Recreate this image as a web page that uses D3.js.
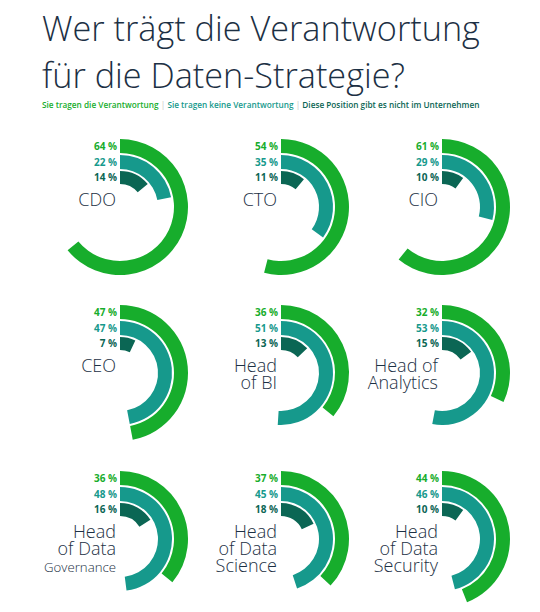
<!DOCTYPE html>
<html lang="de">
<head>
  <meta charset="UTF-8">
  <title>Daten-Strategie</title>
  <script src="https://d3js.org/d3.v7.min.js"></script>
  <style>
    body { margin: 0; background: #fff; }
    svg { display: block; font-family: "Open Sans", sans-serif; }
  </style>
</head>
<body>
<div id="chart"></div>
<script>
// data
var positions = ["CDO", "CTO", "CIO", "CEO", "Head of BI", "Head of Analytics",
  "Head of Data Governance", "Head of Data Science", "Head of Data Security"];
var labelLines = [["CDO"], ["CTO"], ["CIO"], ["CEO"], ["Head", "of BI"], ["Head of", "Analytics"],
  ["Head", "of Data", "Governance"], ["Head", "of Data", "Science"], ["Head", "of Data", "Security"]];
var responsible = [64, 54, 61, 47, 36, 32, 36, 37, 44];
var notResponsible = [22, 35, 29, 47, 51, 53, 48, 45, 46];
var notExisting = [14, 11, 10, 7, 13, 15, 16, 18, 10];
var seriesNames = ["Sie tragen die Verantwortung", "Sie tragen keine Verantwortung",
  "Diese Position gibt es nicht im Unternehmen"];

var colours = ["#17ad2c", "#16998c", "#0b6654"];
var textColour = "#1c3044";
var width = 540, height = 612;

var svg = d3.select("#chart").append("svg")
  .attr("width", width)
  .attr("height", height);

// title
var title = svg.append("text")
  .attr("x", 42)
  .attr("font-weight", 300)
  .attr("fill", textColour);
title.append("tspan").attr("x", 42).attr("y", 41).text("Wer trägt die Verantwortung");
title.append("tspan").attr("x", 42).attr("y", 88).text("für die Daten-Strategie?");
// size the title so the first line is as wide as in the picture
title.attr("font-size", 37);
var w1 = title.select("tspan").node().getComputedTextLength();
title.attr("font-size", 37 * 438 / w1);

// legend line
var legend = svg.append("text")
  .attr("x", 42)
  .attr("y", 108)
  .attr("font-weight", 600)
  .attr("font-size", 9);
seriesNames.forEach(function(name, i) {
  if (i > 0) {
    legend.append("tspan").attr("fill", "#c4c4c4").attr("font-weight", 400).text(" | ");
  }
  legend.append("tspan").attr("fill", colours[i]).text(name);
});
var lw = legend.node().getComputedTextLength();
legend.attr("font-size", 9 * 438 / lw);

// grid of radial bars
var xPos = d3.scalePoint().domain([0, 1, 2]).range([120, 442]);
var yPos = d3.scalePoint().domain([0, 1, 2]).range([207, 539]);
var angle = d3.scaleLinear().domain([0, 100]).range([0, 2 * Math.PI]);
var ringOuter = [68, 52, 36];
var ringInner = [54, 38, 23];

var arc = d3.arc()
  .startAngle(0)
  .endAngle(function(d) { return angle(d.value); })
  .innerRadius(function(d) { return ringInner[d.ring]; })
  .outerRadius(function(d) { return ringOuter[d.ring]; });

var panels = svg.selectAll("g.panel")
  .data(positions)
  .enter()
  .append("g")
    .attr("class", "panel")
    .attr("transform", function(d, i) {
      return "translate(" + xPos(i % 3) + "," + yPos(Math.floor(i / 3)) + ")";
    });

panels.each(function(name, i) {
  var g = d3.select(this);
  var rings = [responsible[i], notResponsible[i], notExisting[i]].map(function(v, r) {
    return { value: v, ring: r };
  });

  g.selectAll("path")
    .data(rings)
    .enter()
    .append("path")
      .attr("d", arc)
      .attr("fill", function(d) { return colours[d.ring]; });

  // percentage labels, centred in each ring
  g.selectAll("text.pct")
    .data(rings)
    .enter()
    .append("text")
      .attr("class", "pct")
      .attr("x", -3)
      .attr("y", function(d) { return -(ringOuter[d.ring] + ringInner[d.ring]) / 2; })
      .attr("dy", "0.35em")
      .attr("text-anchor", "end")
      .attr("font-size", 10)
      .attr("font-weight", 700)
      .attr("fill", function(d) { return colours[d.ring]; })
      .text(function(d) { return d.value + " %"; });

  // position name
  g.selectAll("text.name")
    .data(labelLines[i])
    .enter()
    .append("text")
      .attr("class", "name")
      .attr("x", -4)
      .attr("y", function(d, j) { return -1 + j * 17; })
      .attr("text-anchor", "end")
      .attr("font-size", 18)
      .attr("font-weight", 300)
      .attr("fill", textColour)
      .text(function(d) { return d; })
      .each(function() {
        // long words are set smaller, as in the picture
        var t = d3.select(this);
        var len = this.getComputedTextLength();
        if (len > 78) t.attr("font-size", 18 * 72 / len);
      });
});
</script>
</body>
</html>
